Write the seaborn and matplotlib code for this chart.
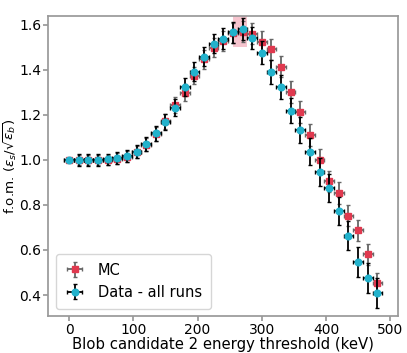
import numpy as np
import pandas as pd
import seaborn as sns
from matplotlib import pyplot as plt

# thresholds scanned (keV), bin step 15
thresholds = list(range(0, 481, 15))

fom_mc = [1.00, 1.00, 1.00, 1.00, 1.00, 1.005, 1.014, 1.035, 1.068, 1.117, 1.172, 1.244,
          1.299, 1.375, 1.447, 1.499, 1.527, 1.565, 1.570, 1.561, 1.526, 1.492, 1.415,
          1.302, 1.213, 1.111, 1.000, 0.905, 0.853, 0.752, 0.687, 0.581, 0.453]
fom_data = [1.00, 1.00, 1.00, 1.00, 1.003, 1.01, 1.018, 1.037, 1.07, 1.119, 1.168, 1.232,
            1.323, 1.392, 1.459, 1.517, 1.538, 1.568, 1.581, 1.541, 1.477, 1.391, 1.323,
            1.219, 1.132, 1.037, 0.947, 0.876, 0.773, 0.664, 0.547, 0.474, 0.410]

err_mc = [0.0, 0.022, 0.022, 0.022, 0.022, 0.024, 0.025, 0.027, 0.029, 0.031, 0.033, 0.035,
          0.037, 0.039, 0.041, 0.042, 0.044, 0.045, 0.046, 0.046, 0.046, 0.047, 0.047,
          0.047, 0.047, 0.047, 0.047, 0.047, 0.047, 0.046, 0.046, 0.046, 0.046]
err_data = [0.0, 0.025, 0.025, 0.025, 0.025, 0.026, 0.027, 0.029, 0.031, 0.033, 0.035, 0.037,
            0.039, 0.041, 0.043, 0.044, 0.046, 0.047, 0.048, 0.049, 0.050, 0.052, 0.054,
            0.056, 0.058, 0.060, 0.061, 0.062, 0.063, 0.064, 0.065, 0.066, 0.067]
x_halfwidth = 7.5

# best-threshold band
best_x = (255, 277.5)
best_y = (1.50, 1.66)

df = pd.DataFrame({"threshold": thresholds, "mc": fom_mc, "data": fom_data,
                   "err_mc": err_mc, "err_data": err_data})

sns.set_theme(style="ticks")
plt.rcParams['font.family'] = ['DejaVu Sans']
plt.rcParams['text.color'] = 'black'
plt.rcParams['axes.labelcolor'] = 'black'
plt.rcParams['xtick.labelcolor'] = 'black'
plt.rcParams['ytick.labelcolor'] = 'black'

fig, ax = plt.subplots(figsize=(4.07, 3.53), dpi=100)
fig.subplots_adjust(left=0.119, right=0.978, top=0.955, bottom=0.105)

ax.fill_between(best_x, best_y[0], best_y[1], color="crimson", alpha=0.25, lw=0, zorder=1)

ax.errorbar(df["threshold"], df["mc"], yerr=df["err_mc"], xerr=x_halfwidth,
            fmt="s", ms=4.8, color="#e0394f", ecolor="#666666", elinewidth=1.3,
            capsize=1.2, label="MC", zorder=2)
ax.errorbar(df["threshold"], df["data"], yerr=df["err_data"], xerr=x_halfwidth,
            fmt="o", ms=4.8, color="#22b2cc", ecolor="black", elinewidth=1.3,
            capsize=1.2, label="Data - all runs", zorder=3)

ax.set_ylim(0.307, 1.64)
ax.set_xticks([0, 100, 200, 300, 400, 500])
ax.set_yticks([0.4, 0.6, 0.8, 1.0, 1.2, 1.4, 1.6])
ax.set_xlabel("Blob candidate 2 energy threshold (keV)", fontsize=10.7, labelpad=0)
ax.set_ylabel(r"f.o.m. ($\epsilon_s/\sqrt{\epsilon_b}$)", fontsize=9.6)
ax.yaxis.set_label_coords(-0.083, 0.5)
ax.tick_params(labelsize=10, length=3.5, color="#999999", pad=1.5)
for sp in ax.spines.values():
    sp.set_color("#999999")

ax.legend(loc="lower left", fontsize=10.5, frameon=True, handlelength=1.4,
          handletextpad=0.9, borderpad=0.6)

fig.savefig("out.png", dpi=100)
